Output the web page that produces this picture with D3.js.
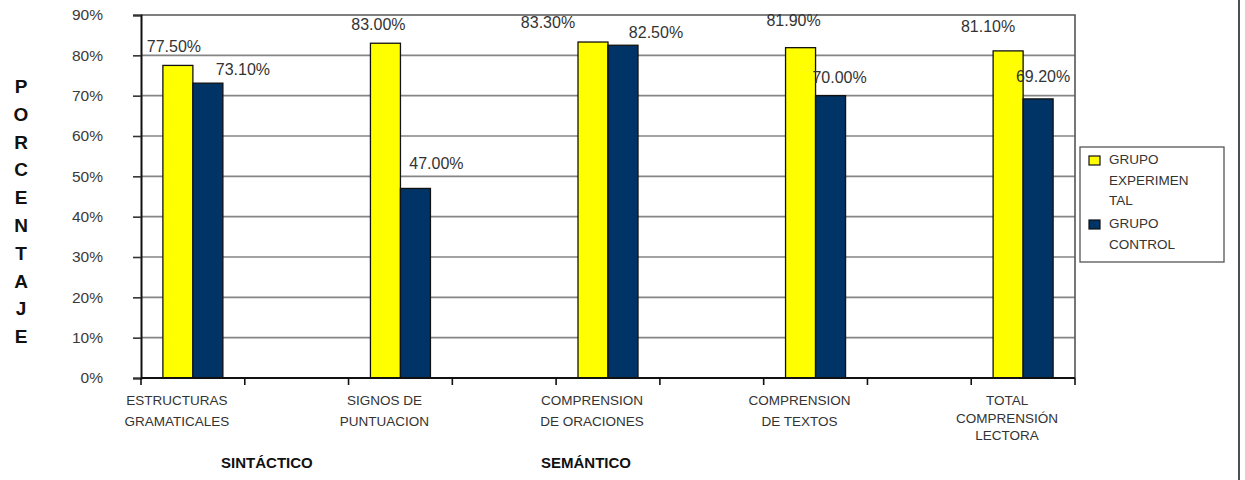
<!DOCTYPE html>
<html>
<head>
<meta charset="utf-8">
<script src="https://cdn.jsdelivr.net/npm/d3@7"></script>
<style>
  body { margin: 0; background: #fff; }
  svg text { font-family: "Liberation Sans", Arial, sans-serif; }
</style>
</head>
<body>
<div id="chart"></div>
<script>
// data
var categories = [
  ["ESTRUCTURAS", "GRAMATICALES"],
  ["SIGNOS DE", "PUNTUACION"],
  ["COMPRENSION", "DE ORACIONES"],
  ["COMPRENSION", "DE TEXTOS"],
  ["TOTAL", "COMPRENSIÓN", "LECTORA"]
]
var experimental = [0.775, 0.830, 0.833, 0.819, 0.811]
var control = [0.731, 0.470, 0.825, 0.700, 0.692]
var yTicks = [0, 0.1, 0.2, 0.3, 0.4, 0.5, 0.6, 0.7, 0.8, 0.9]
var seriesNames = [["GRUPO", "EXPERIMEN", "TAL"], ["GRUPO", "CONTROL"]]
var groupNames = ["SINTÁCTICO", "SEMÁNTICO"]
var axisTitle = "PORCENTAJE"

// label nudges (the labels in the original were dragged by hand)
var expNudge = [[-4, -13], [-7, -13], [-45, -14], [-7, -22], [-20, -19]]
var ctlNudge = [[35, -8], [21, -19], [33, -7], [9, -13], [5, -17]]

var W = 1245, H = 480
var pLeft = 141, pRight = 1075, pTop = 15, pBottom = 378

var svg = d3.select("#chart").append("svg")
    .attr("width", W)
    .attr("height", H)

var y = d3.scaleLinear().domain([0, 0.9]).range([pBottom, pTop])
// 9 slots, categories sit on every other one
var slot = d3.scaleBand().domain(d3.range(9)).range([pLeft, pRight])
var cx = function(i) { return slot(i * 2) + slot.bandwidth() / 2 }
var barW = 30

// gridlines
svg.append("g")
  .selectAll("line")
  .data(yTicks.filter(function(d) { return d > 0 && d < 0.9 }))
  .join("line")
    .attr("x1", pLeft).attr("x2", pRight)
    .attr("y1", function(d) { return y(d) }).attr("y2", function(d) { return y(d) })
    .attr("stroke", "#858585")
    .attr("stroke-width", 1.6)

// plot frame top + right
svg.append("path")
    .attr("d", "M" + pLeft + "," + y(0.9) + "H" + pRight + "V" + pBottom)
    .attr("fill", "none")
    .attr("stroke", "#555")
    .attr("stroke-width", 1.6)

// y axis
var yAxis = svg.append("g")
    .attr("transform", "translate(" + pLeft + ",0)")
    .call(d3.axisLeft(y).tickValues(yTicks).tickFormat(d3.format(".0%")).tickSize(8).tickPadding(30))
yAxis.select(".domain").attr("stroke", "#111").attr("stroke-width", 2)
yAxis.selectAll(".tick line").attr("stroke", "#333").attr("stroke-width", 1.6)
yAxis.selectAll(".tick text")
    .attr("font-size", "15.5px")
    .attr("fill", "#3a3a3a")
    .attr("font-family", "Liberation Sans, Arial, sans-serif")

// bars
var bars = svg.append("g")
bars.selectAll(".exp")
  .data(experimental)
  .join("rect")
    .attr("class", "exp")
    .attr("x", function(d, i) { return cx(i) - barW })
    .attr("y", function(d) { return y(d) })
    .attr("width", barW)
    .attr("height", function(d) { return pBottom - y(d) })
    .attr("fill", "#ffff00")
    .attr("stroke", "#111")
    .attr("stroke-width", 1.3)
bars.selectAll(".ctl")
  .data(control)
  .join("rect")
    .attr("class", "ctl")
    .attr("x", function(d, i) { return cx(i) })
    .attr("y", function(d) { return y(d) })
    .attr("width", barW)
    .attr("height", function(d) { return pBottom - y(d) })
    .attr("fill", "#003366")
    .attr("stroke", "#111")
    .attr("stroke-width", 1.3)

// x axis
var slotEdges = d3.range(10).map(function(i) { return pLeft + i * slot.step() })
var xAxis = svg.append("g")
xAxis.append("line")
    .attr("x1", pLeft).attr("x2", pRight)
    .attr("y1", pBottom).attr("y2", pBottom)
    .attr("stroke", "#111").attr("stroke-width", 2)
xAxis.selectAll(".tk")
  .data(slotEdges)
  .join("line")
    .attr("class", "tk")
    .attr("x1", function(d) { return d }).attr("x2", function(d) { return d })
    .attr("y1", pBottom).attr("y2", pBottom + 7)
    .attr("stroke", "#111").attr("stroke-width", 1.6)

// value labels
var fmt = d3.format(".2%")
svg.append("g").selectAll("text")
  .data(experimental)
  .join("text")
    .attr("x", function(d, i) { return cx(i) - barW / 2 + expNudge[i][0] })
    .attr("y", function(d, i) { return y(d) + expNudge[i][1] })
    .attr("text-anchor", "middle")
    .attr("font-size", "16px")
    .attr("fill", "#333")
    .text(function(d) { return fmt(d) })
svg.append("g").selectAll("text")
  .data(control)
  .join("text")
    .attr("x", function(d, i) { return cx(i) + barW / 2 + ctlNudge[i][0] })
    .attr("y", function(d, i) { return y(d) + ctlNudge[i][1] })
    .attr("text-anchor", "middle")
    .attr("font-size", "16px")
    .attr("fill", "#333")
    .text(function(d) { return fmt(d) })

// category labels
var catG = svg.append("g").selectAll("text")
  .data(categories)
  .join("text")
    .attr("text-anchor", "middle")
    .attr("font-size", "13.5px")
    .attr("fill", "#333")
catG.each(function(lines, i) {
  var lh = lines.length > 2 ? 17.5 : 21
  d3.select(this).selectAll("tspan")
    .data(lines)
    .join("tspan")
      .attr("x", cx(i) - 16)
      .attr("y", function(d, j) { return 405 + j * lh })
      .text(function(d) { return d })
})

// group labels under the categories
svg.append("text")
    .attr("x", cx(0) + 74)
    .attr("y", 468)
    .attr("text-anchor", "middle")
    .attr("font-size", "15px")
    .attr("font-weight", "bold")
    .attr("fill", "#111")
    .text(groupNames[0])
svg.append("text")
    .attr("x", cx(2) - 22)
    .attr("y", 468)
    .attr("text-anchor", "middle")
    .attr("font-size", "15px")
    .attr("font-weight", "bold")
    .attr("fill", "#111")
    .text(groupNames[1])

// vertical axis title, one letter per line
svg.append("g").selectAll("text")
  .data(axisTitle.split(""))
  .join("text")
    .attr("x", 21)
    .attr("y", function(d, i) { return 93 + i * 27.8 })
    .attr("text-anchor", "middle")
    .attr("font-size", "19px")
    .attr("font-weight", "bold")
    .attr("fill", "#111")
    .text(function(d) { return d })

// legend
var lg = svg.append("g").attr("transform", "translate(1080,147)")
lg.append("rect")
    .attr("width", 144).attr("height", 115)
    .attr("fill", "#fff")
    .attr("stroke", "#555").attr("stroke-width", 1.3)
var legendColors = ["#ffff00", "#003366"]
var legendTop = [17, 81]
seriesNames.forEach(function(lines, k) {
  lg.append("rect")
      .attr("x", 9).attr("y", legendTop[k] - 8)
      .attr("width", 11).attr("height", 9)
      .attr("fill", legendColors[k])
      .attr("stroke", "#111").attr("stroke-width", 1.2)
  lg.append("text")
      .attr("font-size", "13.5px")
      .attr("fill", "#333")
    .selectAll("tspan")
    .data(lines)
    .join("tspan")
      .attr("x", 29)
      .attr("y", function(d, j) { return legendTop[k] + j * 20.5 })
      .text(function(d) { return d })
})

// outer chart border (right side)
svg.append("line")
    .attr("x1", 1239).attr("x2", 1239)
    .attr("y1", 0).attr("y2", H)
    .attr("stroke", "#222").attr("stroke-width", 1.6)
</script>
</body>
</html>
